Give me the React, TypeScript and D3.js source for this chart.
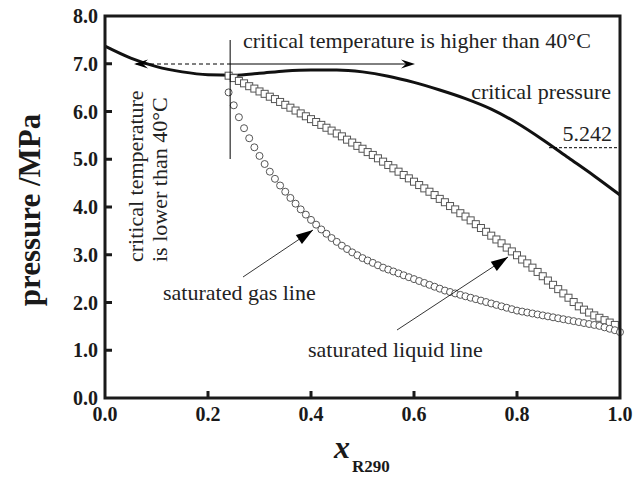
import React from 'react';
import * as d3 from 'd3';

const X_TICKS = [0, 0.2, 0.4, 0.6, 0.8, 1.0];
const Y_TICKS = [0, 1, 2, 3, 4, 5, 6, 7, 8];

// critical pressure curve
const CRIT_X = [0, 0.05, 0.1, 0.15, 0.2, 0.25, 0.3, 0.35, 0.4, 0.45, 0.5, 0.55, 0.6, 0.65, 0.7, 0.75, 0.8, 0.85, 0.9, 0.95, 1.0];
const CRIT_P = [7.37, 7.12, 6.94, 6.83, 6.77, 6.76, 6.8, 6.85, 6.87, 6.87, 6.83, 6.74, 6.61, 6.45, 6.27, 6.05, 5.76, 5.41, 5.03, 4.65, 4.25];

// saturated liquid line (squares)
const LIQ_X = [0.24, 0.25, 0.26, 0.27, 0.28, 0.29, 0.3, 0.31, 0.32, 0.33, 0.34, 0.35, 0.36, 0.37, 0.38, 0.39, 0.4, 0.41, 0.42, 0.43, 0.44, 0.45, 0.46, 0.47, 0.48, 0.49, 0.5, 0.51, 0.52, 0.53, 0.54, 0.55, 0.56, 0.57, 0.58, 0.59, 0.6, 0.61, 0.62, 0.63, 0.64, 0.65, 0.66, 0.67, 0.68, 0.69, 0.7, 0.71, 0.72, 0.73, 0.74, 0.75, 0.76, 0.77, 0.78, 0.79, 0.8, 0.81, 0.82, 0.83, 0.84, 0.85, 0.86, 0.87, 0.88, 0.89, 0.9, 0.91, 0.92, 0.93, 0.94, 0.95, 0.96, 0.97, 0.98, 0.99];
const LIQ_P = [6.75, 6.7, 6.64, 6.59, 6.53, 6.48, 6.42, 6.37, 6.31, 6.26, 6.2, 6.14, 6.08, 6.02, 5.96, 5.9, 5.84, 5.78, 5.72, 5.66, 5.6, 5.54, 5.48, 5.41, 5.35, 5.28, 5.22, 5.15, 5.09, 5.02, 4.95, 4.88, 4.81, 4.74, 4.67, 4.6, 4.53, 4.46, 4.39, 4.32, 4.25, 4.17, 4.1, 4.02, 3.95, 3.87, 3.8, 3.72, 3.64, 3.56, 3.48, 3.4, 3.32, 3.24, 3.15, 3.07, 2.99, 2.9, 2.82, 2.73, 2.64, 2.55, 2.46, 2.37, 2.28, 2.19, 2.1, 2.01, 1.92, 1.85, 1.79, 1.73, 1.68, 1.63, 1.58, 1.53];

// saturated gas line (circles)
const GAS_X = [0.24, 0.25, 0.26, 0.27, 0.28, 0.29, 0.3, 0.31, 0.32, 0.33, 0.34, 0.35, 0.36, 0.37, 0.38, 0.39, 0.4, 0.41, 0.42, 0.43, 0.44, 0.45, 0.46, 0.47, 0.48, 0.49, 0.5, 0.51, 0.52, 0.53, 0.54, 0.55, 0.56, 0.57, 0.58, 0.59, 0.6, 0.61, 0.62, 0.63, 0.64, 0.65, 0.66, 0.67, 0.68, 0.69, 0.7, 0.71, 0.72, 0.73, 0.74, 0.75, 0.76, 0.77, 0.78, 0.79, 0.8, 0.81, 0.82, 0.83, 0.84, 0.85, 0.86, 0.87, 0.88, 0.89, 0.9, 0.91, 0.92, 0.93, 0.94, 0.95, 0.96, 0.97, 0.98, 0.99, 1.0];
const GAS_P = [6.4, 6.13, 5.88, 5.65, 5.44, 5.25, 5.07, 4.9, 4.74, 4.59, 4.45, 4.32, 4.19, 4.07, 3.95, 3.84, 3.73, 3.63, 3.53, 3.44, 3.35, 3.27, 3.19, 3.12, 3.05, 2.99, 2.93, 2.88, 2.83, 2.78, 2.73, 2.69, 2.65, 2.61, 2.57, 2.53, 2.49, 2.45, 2.41, 2.37, 2.33, 2.29, 2.25, 2.22, 2.19, 2.16, 2.13, 2.1, 2.07, 2.04, 2.01, 1.98, 1.95, 1.92, 1.89, 1.86, 1.83, 1.81, 1.79, 1.77, 1.75, 1.73, 1.71, 1.69, 1.67, 1.65, 1.63, 1.61, 1.59, 1.57, 1.55, 1.53, 1.51, 1.48, 1.45, 1.42, 1.38];

const CRIT_PRESSURE_MARK = 5.242;
const CRIT_X_LINE = 0.243;

const FONT = "'Liberation Serif', 'Times New Roman', Times, serif";

export default function App() {
  const W = 635, H = 481;
  const L = 105, R = 620, T = 16, B = 398;
  const x = d3.scaleLinear().domain([0, 1]).range([L, R]);
  const y = d3.scaleLinear().domain([0, 8]).range([B, T]);

  const critLine = d3.line<number>()
    .x((_, i) => x(CRIT_X[i]))
    .y((d) => y(d))
    .curve(d3.curveMonotoneX)(CRIT_P) || '';

  const fmt = d3.format('.1f');

  const arrowY = 64;
  const vx = x(CRIT_X_LINE);
  const leftTip = 134;
  const rightTip = 415;

  const stealth = (tx: number, ty: number, dir: number) =>
    `M${tx},${ty} L${tx - dir * 14},${ty - 4.5} L${tx - dir * 9},${ty} L${tx - dir * 14},${ty + 4.5} Z`;

  const triHead = (x0: number, y0: number, x1: number, y1: number, len = 17, hw = 5.5) => {
    const a = Math.atan2(y1 - y0, x1 - x0);
    const bx = x1 - len * Math.cos(a), by = y1 - len * Math.sin(a);
    const px = -Math.sin(a), py = Math.cos(a);
    return `M${x1},${y1} L${bx + px * hw},${by + py * hw} L${bx - px * hw},${by - py * hw} Z`;
  };

  const gasArrow = { x0: 243, y0: 277, x1: 313, y1: 230 };
  const liqArrow = { x0: 397, y0: 330, x1: 508, y1: 257 };

  return (
    <svg width={W} height={H} style={{ position: 'absolute', left: 0, top: 0, background: '#fff', fontFamily: FONT }}>
      <path d={critLine} fill="none" stroke="#111" strokeWidth={3} />

      <g stroke="#555" strokeWidth={1} fill="#fff">
        {LIQ_P.map((p, i) => (
          <rect key={'l' + i} x={x(LIQ_X[i]) - 3.5} y={y(p) - 3.5} width={7} height={7} />
        ))}
      </g>
      <g stroke="#555" strokeWidth={1} fill="#fff">
        {GAS_P.map((p, i) => (
          <circle key={'g' + i} cx={x(GAS_X[i])} cy={y(p)} r={3.5} />
        ))}
      </g>

      <line x1={vx} x2={vx} y1={40} y2={159} stroke="#000" strokeWidth={1} />
      <line x1={leftTip + 2} x2={vx} y1={arrowY} y2={arrowY} stroke="#000" strokeWidth={1} strokeDasharray="4,3" />
      <line x1={vx} x2={rightTip - 8} y1={arrowY} y2={arrowY} stroke="#000" strokeWidth={1} />
      <path d={stealth(rightTip, arrowY, 1)} fill="#000" />
      <path d={stealth(leftTip, arrowY, -1)} fill="#000" />

      <line x1={549} x2={R} y1={y(CRIT_PRESSURE_MARK)} y2={y(CRIT_PRESSURE_MARK)} stroke="#000" strokeWidth={1} strokeDasharray="3,2" />

      <line x1={gasArrow.x0} y1={gasArrow.y0} x2={gasArrow.x1} y2={gasArrow.y1} stroke="#000" strokeWidth={0.8} />
      <path d={triHead(gasArrow.x0, gasArrow.y0, gasArrow.x1, gasArrow.y1)} fill="#000" />
      <line x1={liqArrow.x0} y1={liqArrow.y0} x2={liqArrow.x1} y2={liqArrow.y1} stroke="#000" strokeWidth={0.8} />
      <path d={triHead(liqArrow.x0, liqArrow.y0, liqArrow.x1, liqArrow.y1)} fill="#000" />

      <g fontSize={22} fill="#222">
        <text x={243} y={48}>critical temperature is higher than 40°C</text>
        <text x={611} y={99} textAnchor="end">critical pressure</text>
        <text x={612} y={141} textAnchor="end">{CRIT_PRESSURE_MARK.toFixed(3)}</text>
        <text x={163} y={300}>saturated gas line</text>
        <text x={308} y={357}>saturated liquid line</text>
        <text transform="translate(143,262) rotate(-90)">critical temperature</text>
        <text transform="translate(167,262) rotate(-90)">is lower than 40°C</text>
      </g>

      <rect x={L} y={T} width={R - L} height={B - T} fill="none" stroke="#1a1a1a" strokeWidth={3} />
      <g stroke="#1a1a1a" strokeWidth={3}>
        {X_TICKS.slice(1, -1).map((t) => (
          <line key={'xt' + t} x1={x(t)} x2={x(t)} y1={B} y2={B - 7} />
        ))}
        {Y_TICKS.slice(1, -1).map((t) => (
          <line key={'yt' + t} x1={L} x2={L + 7} y1={y(t)} y2={y(t)} />
        ))}
      </g>
      <g fontSize={20} fontWeight="bold" fill="#1a1a1a">
        {X_TICKS.map((t) => (
          <text key={'xl' + t} x={x(t)} y={421} textAnchor="middle">{fmt(t)}</text>
        ))}
        {Y_TICKS.map((t) => (
          <text key={'yl' + t} x={98} y={y(t) + 7} textAnchor="end">{fmt(t)}</text>
        ))}
      </g>

      <text x={334} y={458} fontSize={32} fontWeight="bold" fontStyle="italic" fill="#1a1a1a">x</text>
      <text x={352} y={472} fontSize={17} fontWeight="bold" fill="#1a1a1a">R290</text>
      <text transform="translate(40,210) rotate(-90)" textAnchor="middle" fontSize={31} fontWeight="bold" fill="#1a1a1a">pressure /MPa</text>
    </svg>
  );
}
